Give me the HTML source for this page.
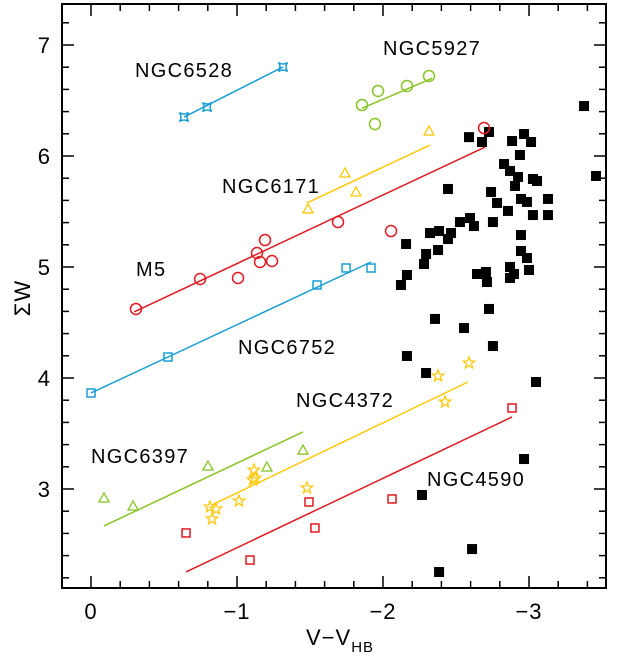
<!DOCTYPE html>
<html><head><meta charset="utf-8">
<style>
html,body{margin:0;padding:0;background:#fff;}
svg text{font-family:"Liberation Sans","DejaVu Sans",sans-serif;}
</style></head>
<body>
<svg id="chart" width="619" height="658" viewBox="0 0 619 658" xmlns="http://www.w3.org/2000/svg"></svg>
<script>
// ---- data ----
const xTicks = [0, -1, -2, -3];
const xTickLabels = ["0", "\u22121", "\u22122", "\u22123"];
const yTicks = [3, 4, 5, 6, 7];
const yTickLabels = ["3", "4", "5", "6", "7"];

const blackX = [-3.377,-2.589,-2.726,-2.678,-2.884,-2.966,-3.014,-2.938,-2.829,-2.870,-2.925,-2.904,-3.027,-3.055,-3.459,-2.445,-2.740,-2.945,-2.986,-2.781,-2.856,-3.027,-3.130,-3.130,-2.527,-2.596,-2.623,-2.753,-2.322,-2.384,-2.466,-2.445,-2.158,-2.377,-2.295,-2.281,-2.164,-2.123,-2.945,-2.945,-2.986,-3.0,-2.870,-2.897,-2.870,-2.644,-2.705,-2.712,-2.726,-2.356,-2.555,-2.753,-2.164,-2.295,-3.048,-2.966,-2.267,-2.610,-2.384];
const blackY = [6.45,6.17,6.216,6.126,6.135,6.198,6.126,6.009,5.928,5.865,5.811,5.730,5.793,5.775,5.820,5.703,5.676,5.613,5.586,5.577,5.505,5.468,5.613,5.468,5.405,5.441,5.369,5.405,5.306,5.324,5.306,5.252,5.207,5.153,5.117,5.027,4.928,4.838,5.288,5.144,5.081,4.973,5.0,4.937,4.901,4.937,4.955,4.865,4.622,4.532,4.450,4.288,4.198,4.045,3.964,3.270,2.946,2.459,2.252];

const n6528X = [-0.637,-0.795,-1.315];
const n6528Y = [6.351,6.441,6.802];
const n6528Line = [-0.637,6.351,-1.315,6.802];

const n5927X = [-1.856,-1.966,-2.164,-2.315,-1.945];
const n5927Y = [6.459,6.586,6.631,6.721,6.288];
const n5927Line = [-1.856,6.43,-2.336,6.70];

const n6171X = [-1.486,-1.740,-1.815,-2.315];
const n6171Y = [5.523,5.847,5.676,6.225];
const n6171Line = [-1.479,5.577,-2.322,6.099];

const m5X = [-0.308,-0.747,-1.007,-1.192,-1.137,-1.158,-1.240,-1.692,-2.055,-2.692];
const m5Y = [4.622,4.892,4.901,5.243,5.126,5.045,5.054,5.405,5.324,6.252];
const m5Line = [-0.295,4.595,-2.699,6.081];

const n6752X = [0,-0.527,-1.548,-1.747,-1.918];
const n6752Y = [3.865,4.189,4.838,4.991,4.991];
const n6752Line = [0,3.865,-1.918,5.045];

const n4372X = [-2.589,-2.377,-2.425,-1.116,-1.123,-1.110,-0.815,-0.856,-0.829,-1.014,-1.479];
const n4372Y = [4.135,4.018,3.784,3.171,3.099,3.081,2.838,2.820,2.730,2.892,3.009];
const n4372Line = [-0.829,2.856,-2.582,3.964];

const n6397X = [-0.089,-0.288,-0.801,-1.205,-1.452];
const n6397Y = [2.919,2.847,3.207,3.198,3.351];
const n6397Line = [-0.089,2.667,-1.452,3.514];

const n4590X = [-0.651,-1.089,-1.493,-1.534,-2.062,-2.884];
const n4590Y = [2.604,2.360,2.883,2.649,2.910,3.730];
const n4590Line = [-0.651,2.253,-2.884,3.649];

// ---- axes ----
const L=62, R=606, T=4, B=588;
const X0=91, XU=146, Y7=45, YU=111;
const sx = v => X0 - v*XU;
const sy = v => Y7 + (7 - v)*YU;

const svg = document.getElementById('chart');
const NS = 'http://www.w3.org/2000/svg';
function mk(tag, attrs, parent){
  const e = document.createElementNS(NS, tag);
  for (const k in attrs) e.setAttribute(k, attrs[k]);
  (parent||svg).appendChild(e);
  return e;
}

const frame = mk('rect',{x:L,y:T,width:R-L,height:B-T,fill:'none',stroke:'#000','stroke-width':2});



// ticks
const tg = mk('g',{stroke:'#000','stroke-width':1.5});


for (let i=-1;i<=18;i++){
  const v = -i*0.2;
  const px = sx(v);
  if (px<L+1||px>R-1) continue;
  const major = Math.abs(v - Math.round(v))<1e-6;
  const len = major?12:7;
  mk('line',{x1:px,y1:B,x2:px,y2:B-len},tg);
  mk('line',{x1:px,y1:T,x2:px,y2:T+len},tg);
}
for (let i=10;i<=37;i++){
  const v = i*0.2;
  const py = sy(v);
  if (py<T+1||py>B-1) continue;
  const major = Math.abs(v - Math.round(v))<1e-6;
  const len = major?12:7;
  mk('line',{x1:L,y1:py,x2:L+len,y2:py},tg);
  mk('line',{x1:R,y1:py,x2:R-len,y2:py},tg);
}
xTicks.forEach((v,i)=>{
  const t = mk('text',{x:sx(v),y:619,'font-size':22,'text-anchor':'middle',fill:'#000','letter-spacing':1});
  t.textContent = xTickLabels[i];
  
  
});
yTicks.forEach((v,i)=>{
  const t = mk('text',{x:50,y:sy(v)+8,'font-size':22,'text-anchor':'end',fill:'#000'});
  t.textContent = yTickLabels[i];
  
  
});
const xt = mk('text',{x:306,y:645,'font-size':22,fill:'#000','letter-spacing':1});
xt.innerHTML = 'V\u2212V<tspan font-size="15" dy="7">HB</tspan>';


const yt = mk('text',{x:0,y:0,'font-size':22,fill:'#000','text-anchor':'middle',transform:'translate(30,298) rotate(-90)','letter-spacing':1});
yt.textContent = '\u03A3W';



// markers
function marker(shape, x, y, color, g){
  const cx=sx(x), cy=sy(y);
  let e;
  if (shape==='sq') e = mk('rect',{x:cx-5,y:cy-5,width:10,height:10,fill:'#000'},g);
  else if (shape==='osq') e = mk('rect',{x:cx-4,y:cy-4,width:8,height:8,fill:'none',stroke:color,'stroke-width':1.5},g);
  else if (shape==='circ') e = mk('circle',{cx:cx,cy:cy,r:5.5,fill:'none',stroke:color,'stroke-width':1.5},g);
  else if (shape==='tri') e = mk('path',{d:`M${cx} ${cy-5}L${cx+5} ${cy+4}L${cx-5} ${cy+4}Z`,fill:'none',stroke:color,'stroke-width':1.3},g);
  else if (shape==='star'){
    let d='';
    for(let k=0;k<10;k++){const r=k%2?2.5:6;const a=-Math.PI/2+k*Math.PI/5;d+=(k?'L':'M')+(cx+r*Math.cos(a)).toFixed(1)+' '+(cy+r*Math.sin(a)).toFixed(1);}
    e = mk('path',{d:d+'Z',fill:'none',stroke:color,'stroke-width':1.3},g);
  } else if (shape==='astro'){
    const s=4.5;
    e = mk('path',{d:`M${cx-s} ${cy-s}Q${cx} ${cy-1.5} ${cx+s} ${cy-s}Q${cx+1.5} ${cy} ${cx+s} ${cy+s}Q${cx} ${cy+1.5} ${cx-s} ${cy+s}Q${cx-1.5} ${cy} ${cx-s} ${cy-s}Z`,fill:'none',stroke:color,'stroke-width':1.5},g);
  }
  
  
}
function series(name, xs, ys, shape, color, line){
  const g = mk('g',{});
  
  
  if (line){
    const l = mk('line',{x1:sx(line[0]),y1:sy(line[1]),x2:sx(line[2]),y2:sy(line[3]),stroke:color,'stroke-width':1.5},g);
    
    
  }
  xs.forEach((x,i)=>marker(shape,x,ys[i],color,g));
}
const RED='#e01a22', CYAN='#1a9fd6', GREEN='#88c425', YEL='#ffc80a';
series('field-stars-series', blackX, blackY, 'sq', '#000', null);
series('ngc6528-series', n6528X, n6528Y, 'astro', CYAN, n6528Line);
series('ngc5927-series', n5927X, n5927Y, 'circ', GREEN, n5927Line);
series('ngc6171-series', n6171X, n6171Y, 'tri', YEL, n6171Line);
series('m5-series', m5X, m5Y, 'circ', RED, m5Line);
series('ngc6752-series', n6752X, n6752Y, 'osq', CYAN, n6752Line);
series('ngc4372-series', n4372X, n4372Y, 'star', YEL, n4372Line);
series('ngc6397-series', n6397X, n6397Y, 'tri', GREEN, n6397Line);
series('ngc4590-series', n4590X, n4590Y, 'osq', RED, n4590Line);

// labels
[['NGC6528',135,77],['NGC5927',383,55],['NGC6171',222,193],['M5',136,276],['NGC6752',238,354],['NGC4372',296,407],['NGC6397',91,463],['NGC4590',427,486]].forEach(a=>{
  const t = mk('text',{x:a[1],y:a[2],'font-size':20,fill:'#000','letter-spacing':1.3});
  t.textContent = a[0];
  
  
});
</script>
</body></html>
